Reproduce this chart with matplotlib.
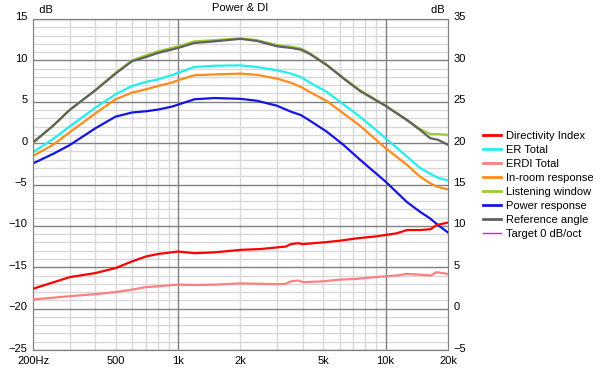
"""
Power & DI chart: spinorama-style curves with directivity on a second axis.
"""

import matplotlib
matplotlib.use("Agg")
import matplotlib.pyplot as plt
from matplotlib.lines import Line2D
from matplotlib.ticker import FixedLocator, NullFormatter
from matplotlib.transforms import ScaledTranslation

plt.rcParams["font.family"] = ["Liberation Sans", "DejaVu Sans"]

# Main curves (left axis, dB)
freq = [200, 250, 300, 400, 500, 600, 700, 800, 930, 1000, 1200, 1500, 2000,
        2400, 3000, 3500, 3900, 4300, 5200, 6260, 7530, 10000, 12650, 14660,
        16400, 17900, 20000]
listening_window = [0.0, 2.1, 4.0, 6.4, 8.5, 10.0, 10.6, 11.1, 11.5, 11.7, 12.3,
                    12.45, 12.65, 12.45, 11.85, 11.65, 11.45, 10.9, 9.5, 7.9, 6.4,
                    4.55, 2.85, 1.7, 1.1, 1.1, 1.0]
reference_angle = [0.1, 2.1, 4.0, 6.4, 8.4, 9.9, 10.4, 10.9, 11.3, 11.5, 12.1,
                   12.3, 12.6, 12.35, 11.7, 11.5, 11.3, 10.8, 9.44, 7.83, 6.3,
                   4.5, 2.8, 1.6, 0.6, 0.4, -0.2]
er_total = [-1.1, 0.5, 2.0, 4.3, 5.9, 6.9, 7.4, 7.7, 8.2, 8.5, 9.2, 9.35, 9.4,
            9.2, 8.8, 8.4, 8.0, 7.35, 6.2, 4.7, 3.2, 0.6, -1.6, -3.0, -3.7,
            -4.2, -4.5]
in_room = [-1.55, -0.2, 1.3, 3.6, 5.3, 6.1, 6.5, 6.9, 7.3, 7.6, 8.2, 8.3, 8.4,
           8.25, 7.8, 7.3, 6.8, 6.2, 5.1, 3.6, 2.1, -0.6, -2.6, -4.05, -4.85,
           -5.3, -5.6]
power = [-2.45, -1.3, -0.25, 1.8, 3.2, 3.7, 3.85, 4.05, 4.4, 4.65, 5.3, 5.45,
         5.35, 5.12, 4.52, 3.8, 3.4, 2.75, 1.4, -0.2, -2.0, -4.65, -7.1, -8.3,
         -9.1, -9.9, -10.8]

# Directivity curves (right axis, dB)
freq_di = [200, 300, 400, 500, 600, 700, 800, 1000, 1200, 1500, 2000, 2500,
           3000, 3300, 3500, 3800, 4000, 5000, 6000, 7300, 8800, 10000, 11300,
           12700, 14700, 16500, 17600, 20000]
di = [2.4, 3.8, 4.3, 4.9, 5.7, 6.3, 6.6, 6.9, 6.7, 6.8, 7.1, 7.2, 7.4, 7.5,
      7.8, 7.9, 7.8, 8.0, 8.2, 8.5, 8.7, 8.9, 9.1, 9.5, 9.5, 9.6, 10.1, 10.4]
erdi = [1.1, 1.5, 1.75, 2.0, 2.3, 2.6, 2.7, 2.9, 2.85, 2.9, 3.05, 3.0, 2.95,
        3.0, 3.3, 3.4, 3.2, 3.3, 3.5, 3.6, 3.8, 3.9, 4.0, 4.2, 4.1, 4.0, 4.4, 4.2]

x_ticks = [200, 500, 1000, 2000, 5000, 10000, 20000]
x_labels = ["200Hz", "500", "1k", "2k", "5k", "10k", "20k"]

colors = {
    "di": "#ff0000",
    "er": "#22eeee",
    "erdi": "#ff8080",
    "inroom": "#ff8c1a",
    "lw": "#9acd32",
    "power": "#1414e6",
    "ref": "#606060",
    "target": "#ff00ff",
}

fig = plt.figure(figsize=(6, 3.68), dpi=100)
ax = fig.add_axes([33 / 600, 1 - 350 / 368, 415 / 600, 331 / 368])
ax2 = ax.twinx()

ax.set_xscale("log")
ax.set_xlim(200, 20000)
ax.set_ylim(-25, 15)
ax2.set_ylim(-5, 35)

# grid
minor_x = [300, 400, 500, 600, 700, 800, 900, 2000, 3000, 4000, 5000, 6000,
           7000, 8000, 9000]
for f in minor_x:
    ax.axvline(f, color="#d8d8d8", lw=1, zorder=0)
for f in [1000, 10000]:
    ax.axvline(f, color="#808080", lw=1, zorder=0.5)
for v in range(-25, 16):
    if v % 5:
        ax.axhline(v, color="#d8d8d8", lw=1, zorder=0)
    else:
        ax.axhline(v, color="#808080", lw=1, zorder=0.5)

lw = 1.6
ax.plot(freq, listening_window, color=colors["lw"], lw=lw, zorder=3)
ax.plot(freq, reference_angle, color=colors["ref"], lw=lw, zorder=3)
ax.plot(freq, er_total, color=colors["er"], lw=lw, zorder=3)
ax.plot(freq, in_room, color=colors["inroom"], lw=lw, zorder=3)
ax.plot(freq, power, color=colors["power"], lw=lw, zorder=3)
ax2.plot(freq_di, erdi, color=colors["erdi"], lw=lw, zorder=3)
ax2.plot(freq_di, di, color=colors["di"], lw=lw, zorder=3)

ax.xaxis.set_major_locator(FixedLocator(x_ticks))
ax.set_xticklabels(x_labels)
ax.xaxis.set_minor_formatter(NullFormatter())
ax.set_yticks(range(-25, 16, 5))
ax2.set_yticks(range(-5, 36, 5))

for a in (ax, ax2):
    a.tick_params(axis="both", which="both", length=0, labelsize=8, pad=4,
                  colors="#000000")
    for s in a.spines.values():
        s.set_color("#808080")
ax.tick_params(axis="x", pad=4)

# y labels sit a little above their gridline, like the original
up = ScaledTranslation(0, 2.5 / 100, fig.dpi_scale_trans)
for lab in ax.get_yticklabels() + ax2.get_yticklabels():
    lab.set_transform(lab.get_transform() + up)

ax.text(0.0, 1.012, "  dB", transform=ax.transAxes, fontsize=8, ha="left", va="bottom")
ax.text(1.0, 1.012, "dB ", transform=ax.transAxes, fontsize=8, ha="right", va="bottom")
ax.set_title("Power & DI", fontsize=8, pad=6)

handles = [
    Line2D([], [], color=colors["di"], lw=2),
    Line2D([], [], color=colors["er"], lw=2),
    Line2D([], [], color=colors["erdi"], lw=2),
    Line2D([], [], color=colors["inroom"], lw=2),
    Line2D([], [], color=colors["lw"], lw=2),
    Line2D([], [], color=colors["power"], lw=2),
    Line2D([], [], color=colors["ref"], lw=2),
    Line2D([], [], color=colors["target"], lw=1),
]
labels = ["Directivity Index", "ER Total", "ERDI Total", "In-room response",
          "Listening window", "Power response", "Reference angle",
          "Target 0 dB/oct"]
fig.legend(handles, labels, loc="upper left", bbox_to_anchor=(0.805, 0.645),
           frameon=False, fontsize=8, handlelength=1.6, handletextpad=0.5,
           labelspacing=0.36, borderaxespad=0, borderpad=0)

fig.savefig("out.png", dpi=100)
